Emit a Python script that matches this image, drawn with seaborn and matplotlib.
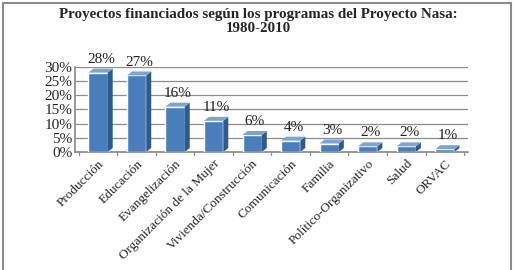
import numpy as np
import pandas as pd
import seaborn as sns
import matplotlib.pyplot as plt
from matplotlib.patches import Polygon, Rectangle

# Data
programas = ["Producción", "Educación", "Evangelización", "Organización de la Mujer",
             "Vivienda/Construcción", "Comunicación", "Familia",
             "Político-Organizativo", "Salud", "ORVAC"]
porcentajes = [0.28, 0.27, 0.16, 0.11, 0.06, 0.04, 0.03, 0.02, 0.02, 0.01]
etiquetas = ["28%", "27%", "16%", "11%", "6%", "4%", "3%", "2%", "2%", "1%"]
y_ticks = [0, 0.05, 0.10, 0.15, 0.20, 0.25, 0.30]
y_tick_labels = ["0%", "5%", "10%", "15%", "20%", "25%", "30%"]

df = pd.DataFrame({"programa": programas, "porcentaje": porcentajes})

sns.set_theme(style="white")
plt.rcParams['font.family'] = ['Liberation Serif', 'DejaVu Serif']

fig = plt.figure(figsize=(5.17, 2.70), dpi=100)
ax = fig.add_axes([0.145, 0.437, 0.76, 0.315])

front = "#4A7EBB"
side = "#2F5A8F"
top = "#7AA3D6"

sns.barplot(data=df, x="programa", y="porcentaje", color=front, width=0.5,
            saturation=1, ax=ax, zorder=3)

ax.set_ylim(0, 0.30)
ax.set_xlim(-0.6, len(programas) - 0.4)
ax.set_yticks(y_ticks)
ax.set_yticklabels(y_tick_labels, fontsize=11)
ax.set_xlabel("")
ax.set_ylabel("")

# gridlines
for t in y_ticks[1:]:
    ax.axhline(t, color="#8c8c8c", lw=0.9, zorder=1)

# fake 3D side and top faces, in pixel offsets from each bar
dx, dy = 5, 4
fig.canvas.draw()
for p in ax.patches:
    x0, w, h = p.get_x(), p.get_width(), p.get_height()
    (xl, yb), (xr, yt) = ax.transData.transform([(x0, 0), (x0 + w, h)])
    side_pts = [(xr, yb), (xr, yt), (xr + dx, yt + dy), (xr + dx, yb + dy)]
    top_pts = [(xl, yt), (xr, yt), (xr + dx, yt + dy), (xl + dx, yt + dy)]
    ax.add_patch(Polygon(side_pts, closed=True, transform=None, fc=side, ec="none", zorder=4))
    ax.add_patch(Polygon(top_pts, closed=True, transform=None, fc=top, ec="none", zorder=4))

for i, (v, lab) in enumerate(zip(porcentajes, etiquetas)):
    ax.annotate(lab, (i, v), xytext=(2, 5), textcoords="offset points",
                ha="center", va="bottom", fontsize=11, color="#222222", zorder=5)

# category boundary ticks
ax.set_xticks(np.arange(len(programas)))
ax.set_xticklabels(programas, rotation=45, ha="right", rotation_mode="anchor", fontsize=9.5)
ax.tick_params(axis="x", length=0, pad=4)
ax.tick_params(axis="y", length=0, pad=2)
for b in np.arange(-0.5, len(programas), 1.0):
    ax.plot([b, b], [0, -0.012], color="#8c8c8c", lw=0.9, clip_on=False)

for s in ["top", "right"]:
    ax.spines[s].set_visible(False)
ax.spines["left"].set_color("#8c8c8c")
ax.spines["bottom"].set_color("#8c8c8c")

fig.text(0.5, 0.945, "Proyectos financiados según los programas del Proyecto Nasa:",
         fontsize=10.8, fontweight="bold", ha="center", va="center")
fig.text(0.5, 0.895, "1980-2010",
         fontsize=10.8, fontweight="bold", ha="center", va="center")

# outer frame
fig.add_artist(Rectangle((0.006, -0.1), 0.982, 1.088, transform=fig.transFigure,
                         fill=False, ec="#8c8c8c", lw=1.5))

fig.savefig("out.png", dpi=100)
